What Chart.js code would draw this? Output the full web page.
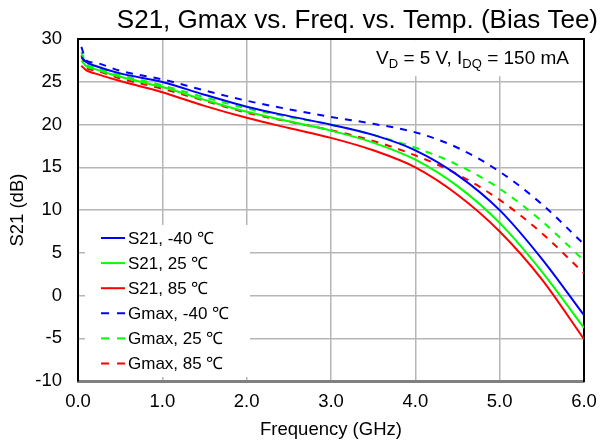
<!DOCTYPE html>
<html>
<head>
<meta charset="utf-8">
<script src="https://cdn.jsdelivr.net/npm/chart.js@4.4.1/dist/chart.umd.min.js"></script>
<style>
  html, body { margin: 0; padding: 0; background: #fff; }
  #wrap { width: 603px; height: 443px; }
</style>
</head>
<body>
<div id="wrap"><canvas id="chart"></canvas></div>
<script>
// frequency points (GHz)
const freq = [0.04, 0.1, 0.2, 0.5, 1.0, 1.5, 2.0, 2.5, 3.0, 3.5, 4.0, 4.5, 5.0, 5.5, 6.0];

// S21 (dB)
const s21M40 = [27.9, 27.3, 26.9, 26.0, 25.0, 23.5, 22.1, 21.0, 20.0, 18.8, 17.0, 14.1, 10.0, 4.3, -2.3];
const s21P25 = [27.5, 26.8, 26.5, 25.6, 24.4, 22.9, 21.5, 20.4, 19.3, 17.9, 15.9, 12.8, 8.5, 2.8, -3.8];
const s21P85 = [26.9, 26.35, 26.0, 25.1, 23.8, 22.2, 20.8, 19.6, 18.45, 17.0, 15.0, 11.8, 7.5, 1.9, -5.1];

// Gmax (dB)
const gmaxM40 = [29.1, 27.5, 27.25, 26.3, 25.3, 24.0, 22.8, 21.8, 20.9, 20.1, 19.1, 17.3, 14.5, 10.7, 6.0];
const gmaxP25 = [28.5, 27.1, 26.7, 25.8, 24.6, 23.2, 21.9, 20.9, 20.0, 18.8, 17.3, 15.3, 12.5, 8.7, 4.1];
const gmaxP85 = [28.1, 26.65, 26.35, 25.4, 24.2, 22.8, 21.4, 20.35, 19.35, 18.1, 16.4, 14.2, 11.2, 7.3, 2.6];

const labels = ['S21, -40 \u2103', 'S21, 25 \u2103', 'S21, 85 \u2103',
                'Gmax, -40 \u2103', 'Gmax, 25 \u2103', 'Gmax, 85 \u2103'];

// V_D = 5 V, I_DQ = 150 mA  (text, subscript?)
const noteParts = [['V', false], ['D', true], [' = 5 V, I', false], ['DQ', true], [' = 150 mA', false]];

const FONT = '"Liberation Sans", Arial, Helvetica, sans-serif';
const gridColor = 'rgb(182,182,182)';
const dash = [7, 7];

const toPts = (vals) => freq.map((f, i) => ({ x: f, y: vals[i] }));

function series(label, vals, color, dashed) {
  return {
    label: label,
    data: toPts(vals),
    borderColor: color,
    backgroundColor: color,
    borderWidth: 2,
    borderDash: dashed ? dash : [],
    pointRadius: 0,
    cubicInterpolationMode: 'monotone',
    fill: false,
  };
}

const boxes = {
  id: 'boxes',
  beforeDatasetsDraw(chart) {
    const ctx = chart.ctx, a = chart.chartArea;
    ctx.save();
    ctx.fillStyle = '#fff';
    // white box behind the bias note
    ctx.fillRect(a.right - 244, a.top + 1, 243, 36);
    // white box behind the legend
    ctx.fillRect(a.left + 7, a.bottom - 156, 165, 152);
    ctx.restore();
  },
  afterDatasetsDraw(chart) {
    const ctx = chart.ctx, a = chart.chartArea;
    ctx.save();
    ctx.fillStyle = '#000';
    ctx.textBaseline = 'alphabetic';

    // bias note with subscripts
    const mainFont = '19px ' + FONT, subFont = '13px ' + FONT;
    let total = 0;
    const widths = noteParts.map(p => {
      ctx.font = p[1] ? subFont : mainFont;
      const w = ctx.measureText(p[0]).width;
      total += w;
      return w;
    });
    let x = a.right - 15 - total;
    const base = a.top + 25;
    noteParts.forEach((p, i) => {
      ctx.font = p[1] ? subFont : mainFont;
      ctx.fillText(p[0], x, p[1] ? base + 4 : base);
      x += widths[i];
    });

    // legend
    ctx.font = '17px ' + FONT;
    ctx.textBaseline = 'middle';
    chart.data.datasets.forEach((ds, i) => {
      const y = a.bottom - 143 + i * 25.1;
      ctx.beginPath();
      ctx.strokeStyle = ds.borderColor;
      ctx.lineWidth = 2;
      ctx.setLineDash(ds.borderDash.length ? [8, 8] : []);
      ctx.moveTo(a.left + 23, y);
      ctx.lineTo(a.left + 47, y);
      ctx.stroke();
      ctx.setLineDash([]);
      ctx.fillText(ds.label, a.left + 50, y + 1);
    });
    ctx.restore();
  }
};

new Chart(document.getElementById('chart'), {
  type: 'line',
  data: {
    datasets: [
      series(labels[0], s21M40, '#0000ff', false),
      series(labels[1], s21P25, '#00ff00', false),
      series(labels[2], s21P85, '#ff0000', false),
      series(labels[3], gmaxM40, '#0000ff', true),
      series(labels[4], gmaxP25, '#00ff00', true),
      series(labels[5], gmaxP85, '#ff0000', true),
    ],
  },
  options: {
    responsive: true,
    maintainAspectRatio: false,
    animation: false,
    layout: { padding: { left: 0, right: 5, top: 0, bottom: 0 } },
    plugins: {
      legend: { display: false },
      tooltip: { enabled: false },
      title: {
        display: true,
        text: 'S21, Gmax vs. Freq. vs. Temp. (Bias Tee)',
        align: 'end',
        color: '#000',
        font: { family: FONT, size: 26, weight: 'normal', lineHeight: 1.2 },
        padding: { top: 5, bottom: 3 },
      },
    },
    scales: {
      x: {
        type: 'linear',
        min: 0,
        max: 6,
        ticks: {
          stepSize: 1,
          padding: 10,
          color: '#000',
          font: { family: FONT, size: 18.5 },
          callback: (v) => v.toFixed(1),
        },
        grid: { color: gridColor, lineWidth: 1.5, drawTicks: false },
        border: { color: '#808080', width: 3 },
        title: {
          display: true,
          text: 'Frequency (GHz)',
          color: '#000',
          font: { family: FONT, size: 18.5 },
          padding: { top: 0, bottom: 2 },
        },
        afterFit(scale) {
          scale.height = 62;
          scale.paddingLeft = 0;
          scale.paddingRight = 0;
        },
      },
      xTop: {
        type: 'linear',
        position: 'top',
        min: 0,
        max: 6,
        ticks: { display: false },
        grid: { display: false, drawTicks: false },
        border: { color: '#000', width: 2 },
        afterFit(scale) { scale.height = 0; },
      },
      y: {
        type: 'linear',
        min: -10,
        max: 30,
        ticks: {
          stepSize: 5,
          padding: 16,
          color: '#000',
          font: { family: FONT, size: 18.5 },
        },
        grid: { color: gridColor, lineWidth: 1.5, drawTicks: false },
        border: { color: '#000', width: 2 },
        title: {
          display: true,
          text: 'S21 (dB)',
          color: '#000',
          font: { family: FONT, size: 18.5 },
          padding: { top: 7, bottom: 0 },
        },
        afterFit(scale) { scale.width = 78; },
      },
      yRight: {
        type: 'linear',
        position: 'right',
        min: -10,
        max: 30,
        ticks: { display: false },
        grid: { display: false, drawTicks: false },
        border: { color: '#000', width: 2 },
        afterFit(scale) { scale.width = 14; },
      },
    },
  },
  plugins: [boxes],
});
</script>
</body>
</html>
